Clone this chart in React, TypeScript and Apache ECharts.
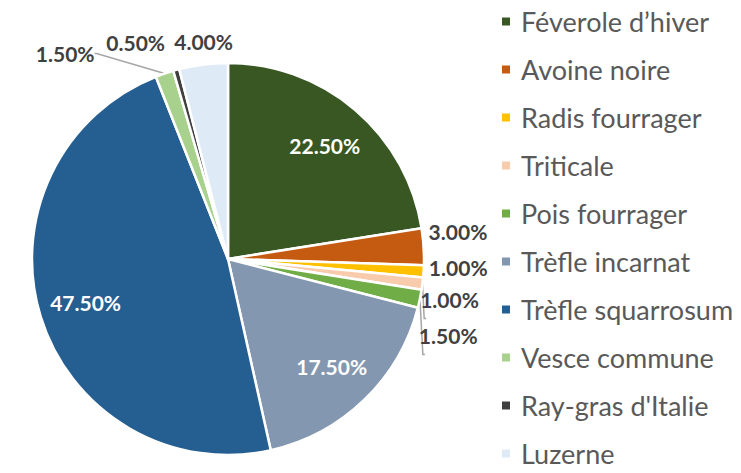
import React, { useEffect, useRef } from "react";
import * as echarts from "echarts";

const categories = [
  "Féverole d’hiver",
  "Avoine noire",
  "Radis fourrager",
  "Triticale",
  "Pois fourrager",
  "Trèfle incarnat",
  "Trèfle squarrosum",
  "Vesce commune",
  "Ray-gras d'Italie",
  "Luzerne",
];
const values = [22.5, 3, 1, 1, 1.5, 17.5, 47.5, 1.5, 0.5, 4];
const colors = [
  "#385723",
  "#C55A11",
  "#FFC000",
  "#F8CBAD",
  "#70AD47",
  "#8497B0",
  "#255E91",
  "#A9D18E",
  "#404040",
  "#DEEBF7",
];
const insideLabels = [true, false, false, false, false, true, true, false, false, false];
const leaderLines = [false, false, false, true, true, false, false, true, false, false];
const rightSide = [false, true, true, true, true, false, false, false, false, false];

const FONT = "Lato, 'Noto Sans', sans-serif";

export default function App() {
  const ref = useRef<HTMLDivElement>(null);
  useEffect(() => {
    if (!ref.current) return;
    const chart = echarts.init(ref.current, undefined, { renderer: "svg" });
    const fmt = (p: any) => Number(p.value).toFixed(2) + "%";
    const center = [228, 259];
    chart.setOption({
      animation: false,
      legend: {
        orient: "vertical",
        left: 500,
        top: 8,
        padding: 0,
        icon: "rect",
        itemWidth: 10,
        itemHeight: 10,
        itemGap: 21,
        data: categories,
        textStyle: {
          fontFamily: FONT,
          fontSize: 27,
          color: "#595959",
          lineHeight: 27,
          padding: [0, 0, 0, 5],
        },
        selectedMode: false,
      },
      series: [
        {
          type: "pie",
          center,
          radius: 196,
          startAngle: 90,
          clockwise: true,
          avoidLabelOverlap: true,
          emphasis: { disabled: true },
          itemStyle: { borderColor: "#ffffff", borderWidth: 2.5 },
          label: {
            show: true,
            position: "outside",
            formatter: fmt,
            fontFamily: FONT,
            fontWeight: "bold",
            fontSize: 21,
            color: "#404040",
            distanceToLabelLine: 2,
          },
          labelLine: {
            show: true,
            length: 3,
            length2: 2,
            lineStyle: { color: "#A6A6A6", width: 1.5 },
          },
          labelLayout: (p: any) => {
            const r = p.rect;
            const i = p.dataIndex;
            if (i === 9) {
              return { x: r.x + r.width / 2, y: r.y - 10, align: "center", verticalAlign: "bottom" };
            }
            if (i === 8) {
              return { x: r.x - 7, y: r.y - 15, align: "right", verticalAlign: "bottom" };
            }
            if (i === 7) {
              return { x: r.x - 60, y: r.y - 16, align: "right", verticalAlign: "middle" };
            }
            if (i === 3 || i === 4) {
              return { dx: -8, dy: -19 };
            }
            if (rightSide[i]) {
              return { dy: -15 };
            }
            return {};
          },
          data: categories.map((name, i) => ({
            name,
            value: values[i],
            itemStyle: { color: colors[i] },
            label: rightSide[i] ? { show: true, lineHeight: 34 } : { show: !insideLabels[i] },
            labelLine: { show: leaderLines[i] },
          })),
        },
        {
          type: "pie",
          center,
          radius: 292,
          startAngle: 90,
          clockwise: true,
          silent: true,
          emphasis: { disabled: true },
          legendHoverLink: false,
          itemStyle: { color: "rgba(0,0,0,0)", borderWidth: 0 },
          label: {
            show: true,
            position: "inside",
            formatter: fmt,
            fontFamily: FONT,
            fontWeight: "bold",
            fontSize: 21,
            color: "#ffffff",
          },
          labelLine: { show: false },
          data: categories.map((name, i) => ({
            name,
            value: values[i],
            itemStyle: { color: "rgba(0,0,0,0)" },
            label: { show: insideLabels[i] },
          })),
        },
      ],
    });
    return () => chart.dispose();
  }, []);
  return (
    <div
      ref={ref}
      style={{ position: "absolute", left: 0, top: 0, width: 741, height: 473, background: "#fff" }}
    />
  );
}
